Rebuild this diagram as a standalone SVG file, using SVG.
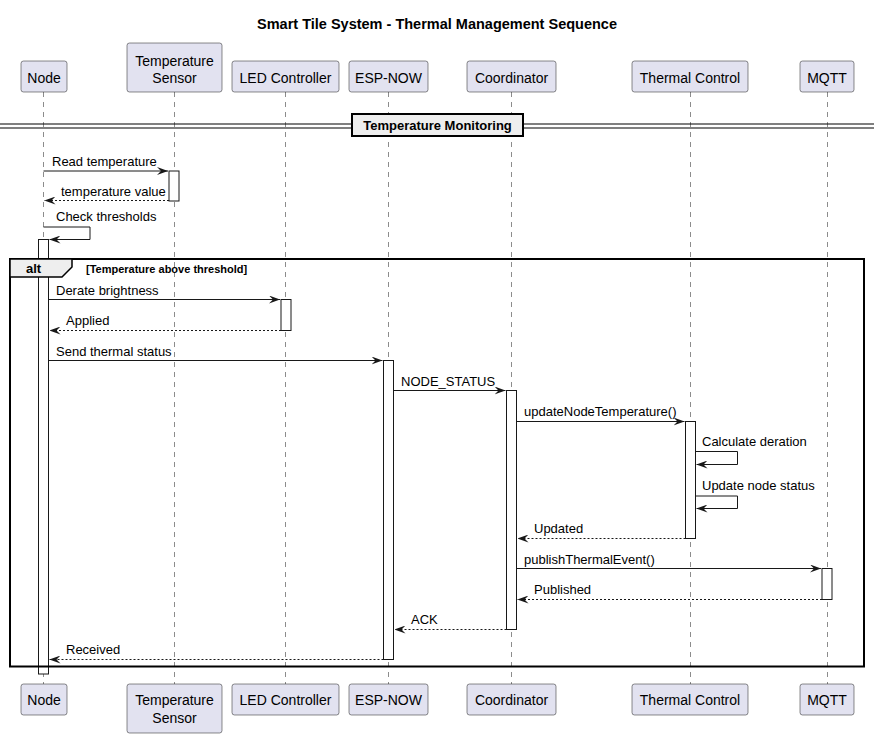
<svg xmlns="http://www.w3.org/2000/svg" width="880" height="738" viewBox="0 0 880 738">
<defs>
<style>
.t{font-family:"Liberation Sans",Arial,sans-serif;fill:#000}
.p{fill:#E2E2F0;stroke:#181818;stroke-width:0.5}
.pt{font-family:"Liberation Sans",Arial,sans-serif;font-size:14px;fill:#000;text-anchor:middle}
.ll{stroke:#181818;stroke-width:0.5;stroke-dasharray:5,5;fill:none}
.act{fill:#FFFFFF;stroke:#181818;stroke-width:1}
.m{stroke:#181818;stroke-width:1;fill:none}
.r{stroke:#181818;stroke-width:1;fill:none;stroke-dasharray:2,2}
.ml{font-family:"Liberation Sans",Arial,sans-serif;font-size:13px;fill:#000}
</style>
<marker id="ah" viewBox="0 0 11 8" refX="11" refY="4" markerWidth="11" markerHeight="8" markerUnits="userSpaceOnUse" orient="auto">
<polygon points="0,0 11,4 0,8 4,4" fill="#181818"/>
</marker>
</defs>
<rect width="880" height="738" fill="#FFFFFF"/>
<text class="t" x="437" y="29" font-size="14.5" font-weight="bold" text-anchor="middle">Smart Tile System - Thermal Management Sequence</text>

<g id="lifelines">
<line class="ll" x1="43.5" y1="92" x2="43.5" y2="684"/>
<line class="ll" x1="174.5" y1="92" x2="174.5" y2="684"/>
<line class="ll" x1="285.5" y1="92" x2="285.5" y2="684"/>
<line class="ll" x1="388.5" y1="92" x2="388.5" y2="684"/>
<line class="ll" x1="511.5" y1="92" x2="511.5" y2="684"/>
<line class="ll" x1="690.5" y1="92" x2="690.5" y2="684"/>
<line class="ll" x1="827.5" y1="92" x2="827.5" y2="684"/>
</g>

<g id="participant-node">
<rect class="p" x="21" y="61" width="46" height="31" rx="2.5"/>
<text class="pt" x="44" y="83">Node</text>
<rect class="p" x="21" y="684" width="46" height="31" rx="2.5"/>
<text class="pt" x="44" y="705">Node</text>
</g>
<g id="participant-sensor">
<rect class="p" x="127" y="43" width="95" height="49" rx="2.5"/>
<text class="pt" x="174.5" y="66">Temperature</text>
<text class="pt" x="174.5" y="83">Sensor</text>
<rect class="p" x="127" y="684" width="95" height="49" rx="2.5"/>
<text class="pt" x="174.5" y="705">Temperature</text>
<text class="pt" x="174.5" y="723">Sensor</text>
</g>
<g id="participant-led">
<rect class="p" x="232" y="61" width="107" height="31" rx="2.5"/>
<text class="pt" x="285.5" y="83">LED Controller</text>
<rect class="p" x="232" y="684" width="107" height="31" rx="2.5"/>
<text class="pt" x="285.5" y="705">LED Controller</text>
</g>
<g id="participant-espnow">
<rect class="p" x="349" y="61" width="79" height="31" rx="2.5"/>
<text class="pt" x="388.5" y="83">ESP-NOW</text>
<rect class="p" x="349" y="684" width="79" height="31" rx="2.5"/>
<text class="pt" x="388.5" y="705">ESP-NOW</text>
</g>
<g id="participant-coordinator">
<rect class="p" x="467" y="61" width="89" height="31" rx="2.5"/>
<text class="pt" x="511.5" y="83">Coordinator</text>
<rect class="p" x="467" y="684" width="89" height="31" rx="2.5"/>
<text class="pt" x="511.5" y="705">Coordinator</text>
</g>
<g id="participant-thermal">
<rect class="p" x="632" y="61" width="116" height="31" rx="2.5"/>
<text class="pt" x="690" y="83">Thermal Control</text>
<rect class="p" x="632" y="684" width="116" height="31" rx="2.5"/>
<text class="pt" x="690" y="705">Thermal Control</text>
</g>
<g id="participant-mqtt">
<rect class="p" x="800" y="61" width="54" height="31" rx="2.5"/>
<text class="pt" x="827" y="83">MQTT</text>
<rect class="p" x="800" y="684" width="54" height="31" rx="2.5"/>
<text class="pt" x="827" y="705">MQTT</text>
</g>

<g id="divider">
<line x1="0" y1="124" x2="874" y2="124" stroke="#000" stroke-width="1.2"/>
<line x1="0" y1="128" x2="874" y2="128" stroke="#000" stroke-width="1.2"/>
<rect x="352" y="114" width="171" height="22" fill="#EEEEEE" stroke="#000" stroke-width="2"/>
<text class="t" x="437.5" y="130" font-size="13" font-weight="bold" text-anchor="middle">Temperature Monitoring</text>
</g>

<g id="activations">
<rect class="act" x="169" y="171" width="10" height="30"/>
<rect class="act" x="38.5" y="239.5" width="10" height="434.5"/>
<rect class="act" x="281" y="299.5" width="10" height="31"/>
<rect class="act" x="383.5" y="360.5" width="10" height="299"/>
<rect class="act" x="506.5" y="390.5" width="10" height="239"/>
<rect class="act" x="685.5" y="421.5" width="10" height="117"/>
<rect class="act" x="822" y="568.5" width="10" height="31"/>
</g>

<g id="alt-frame">
<rect x="10" y="259" width="854" height="407.5" fill="none" stroke="#000" stroke-width="2"/>
<polygon points="10,259 72,259 72,267 62,277 10,277" fill="#EEEEEE" stroke="#000" stroke-width="1.5"/>
<text class="t" x="26" y="273" font-size="13" font-weight="bold">alt</text>
<text class="t" x="86" y="272.5" font-size="11" font-weight="bold">[Temperature above threshold]</text>
</g>

<g id="connectors">
<line class="m" x1="43.5" y1="171" x2="168" y2="171" marker-end="url(#ah)"/>
<text class="ml" x="52" y="166">Read temperature</text>
<line class="r" x1="169" y1="200.5" x2="44.5" y2="200.5" marker-end="url(#ah)"/>
<text class="ml" x="61" y="195.5">temperature value</text>
<polyline class="m" points="43.5,227 90,227 90,239.5 49.5,239.5" marker-end="url(#ah)"/>
<text class="ml" x="56" y="221">Check thresholds</text>
<line class="m" x1="48.5" y1="299.5" x2="280" y2="299.5" marker-end="url(#ah)"/>
<text class="ml" x="56" y="295">Derate brightness</text>
<line class="r" x1="281" y1="330.5" x2="49.5" y2="330.5" marker-end="url(#ah)"/>
<text class="ml" x="66" y="325">Applied</text>
<line class="m" x1="48.5" y1="360.5" x2="382.5" y2="360.5" marker-end="url(#ah)"/>
<text class="ml" x="56" y="356">Send thermal status</text>
<line class="m" x1="393.5" y1="390.5" x2="505.5" y2="390.5" marker-end="url(#ah)"/>
<text class="ml" x="401" y="386">NODE_STATUS</text>
<line class="m" x1="516.5" y1="421.5" x2="684.5" y2="421.5" marker-end="url(#ah)"/>
<text class="ml" x="524" y="416">updateNodeTemperature()</text>
<polyline class="m" points="695.5,451.5 737.5,451.5 737.5,464.5 696.5,464.5" marker-end="url(#ah)"/>
<text class="ml" x="702" y="446">Calculate deration</text>
<polyline class="m" points="695.5,496 737.5,496 737.5,508.5 696.5,508.5" marker-end="url(#ah)"/>
<text class="ml" x="702" y="490">Update node status</text>
<line class="r" x1="685.5" y1="538.5" x2="517.5" y2="538.5" marker-end="url(#ah)"/>
<text class="ml" x="534" y="533">Updated</text>
<line class="m" x1="516.5" y1="568.5" x2="821" y2="568.5" marker-end="url(#ah)"/>
<text class="ml" x="524" y="564">publishThermalEvent()</text>
<line class="r" x1="822" y1="599.5" x2="517.5" y2="599.5" marker-end="url(#ah)"/>
<text class="ml" x="534" y="594">Published</text>
<line class="r" x1="506.5" y1="629.5" x2="394.5" y2="629.5" marker-end="url(#ah)"/>
<text class="ml" x="411" y="624">ACK</text>
<line class="r" x1="383.5" y1="659.5" x2="49.5" y2="659.5" marker-end="url(#ah)"/>
<text class="ml" x="66" y="654">Received</text>
</g>
</svg>
